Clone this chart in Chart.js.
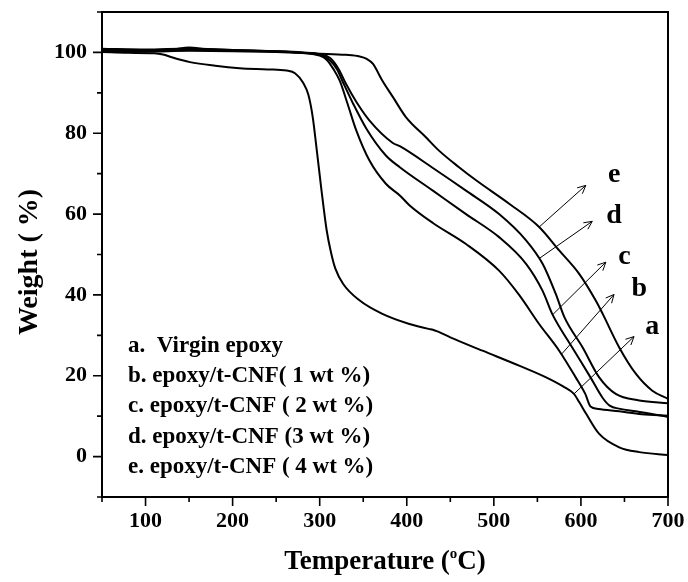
<!DOCTYPE html>
<html><head><meta charset="utf-8">
<script src="https://cdn.jsdelivr.net/npm/chart.js@4.4.0/dist/chart.umd.min.js"></script>
<style>html,body{margin:0;padding:0;background:#fff;} #wrap{width:688px;height:582px;position:relative;}</style>
</head><body><div id="wrap"><canvas id="c" width="688" height="582"></canvas></div>
<script>
// ---- data ----
const tempA = [50, 80, 110, 120, 130, 151, 180, 208, 240, 262, 272, 281, 287, 292, 296, 302, 308, 313, 318, 327, 346, 372, 403, 425, 430, 436, 450, 487, 529, 560, 580, 592, 598, 606, 621, 644, 667, 700];
const weightA = [100.1, 99.9, 99.8, 99.5, 98.8, 97.6, 96.7, 96.1, 95.8, 95.5, 94.8, 92.5, 89.5, 84, 77, 66, 56, 50.5, 46.5, 42.7, 38.6, 35.3, 32.8, 31.6, 31.4, 30.9, 29.5, 26.2, 22.5, 19.6, 17.3, 15.5, 13.5, 10.6, 5.6, 2.3, 1.1, 0.4];

const tempB = [50, 100, 130, 150, 170, 200, 250, 280, 300, 308, 316, 323, 332, 342, 357, 376, 392, 403, 430, 468, 506, 529, 552, 575, 594, 605, 611, 620, 644, 670, 700];
const weightB = [100.8, 100.6, 100.7, 101.2, 100.8, 100.6, 100.3, 99.9, 99.2, 98.2, 95.8, 93, 87.3, 80.7, 73.3, 67.5, 64.6, 62.2, 57.8, 52.6, 46, 40, 32.8, 26.2, 19.6, 15.5, 12.4, 11.8, 11.2, 10.5, 10.1];

const tempC = [50, 100, 150, 200, 250, 280, 300, 311, 320, 327, 338, 354, 376, 392, 430, 468, 506, 537, 556, 567, 590, 611, 625, 633, 645, 663, 700];
const weightC = [100.4, 100.3, 100.8, 100.5, 100.2, 99.9, 99.5, 98.2, 95.8, 92.5, 87.5, 81, 74.5, 71.6, 65.8, 60, 54.3, 47.7, 41, 35.3, 27, 19.6, 14.5, 12.6, 11.8, 11.2, 9.8];

const tempD = [50, 100, 150, 200, 250, 280, 300, 312, 322, 330, 342, 357, 384, 392, 430, 468, 506, 537, 556, 571, 581, 602, 621, 640, 667, 700];
const weightD = [100.9, 100.7, 101.0, 100.6, 100.3, 100.0, 99.6, 98.6, 95.8, 92.3, 87.8, 83.2, 77.6, 76.8, 71.4, 65.8, 60, 53.5, 47.7, 40.3, 34.5, 27, 19.6, 15.5, 13.9, 13.2];

const tempE = [50, 100, 150, 200, 250, 300, 330, 346, 354, 361, 372, 384, 399, 422, 437, 460, 480, 518, 552, 575, 598, 617, 625, 644, 663, 682, 700];
const weightE = [100.3, 100.2, 100.4, 100.3, 100.1, 99.7, 99.4, 99, 98.4, 97.2, 93, 89, 84, 79, 75.7, 71.6, 68.3, 62.5, 56.8, 51, 45.2, 38.6, 35.3, 27, 20.5, 16.3, 14.3];

const seriesNames = ['a', 'b', 'c', 'd', 'e'];
const legendLines = ['a.  Virgin epoxy', 'b. epoxy/t-CNF( 1 wt %)', 'c. epoxy/t-CNF ( 2 wt %)', 'd. epoxy/t-CNF (3 wt %)', 'e. epoxy/t-CNF ( 4 wt %)'];
const xTicks = [50, 100, 150, 200, 250, 300, 350, 400, 450, 500, 550, 600, 650, 700];
const yTicks = [-10, 0, 10, 20, 30, 40, 50, 60, 70, 80, 90, 100, 110];
// arrows (data coords): start on curve -> end near the letter
const arrowStart = [[592, 15.5], [578, 25.4], [568, 35.2], [552, 49], [552, 56.8]];
const arrowEnd   = [[661, 29.7], [638, 40.1], [628.6, 48.1], [613, 58.2], [605.6, 67.1]];
const letterPos  = [[674, 32], [658, 41.5], [643, 49.5], [629, 59.5], [631, 69.8]];

const temps = [tempA, tempB, tempC, tempD, tempE];
const weights = [weightA, weightB, weightC, weightD, weightE];
const datasets = seriesNames.map((n, i) => ({
  label: n,
  data: temps[i].map((t, k) => ({x: t, y: weights[i][k]})),
  borderColor: '#000', borderWidth: 2, pointRadius: 0, fill: false,
  cubicInterpolationMode: 'monotone'
}));

const SERIF = '"Liberation Serif", "Times New Roman", serif';

const decor = {
  id: 'decor',
  afterDraw(chart) {
    const {ctx, chartArea: ca, scales: {x, y}} = chart;
    ctx.save();
    ctx.strokeStyle = '#000';
    ctx.lineWidth = 2;
    ctx.beginPath();
    ctx.moveTo(ca.left, ca.top); ctx.lineTo(ca.right, ca.top); ctx.lineTo(ca.right, ca.bottom);
    ctx.stroke();
    ctx.lineWidth = 1.6;
    ctx.beginPath();
    xTicks.forEach(v => {
      const px = x.getPixelForValue(v); const len = v % 100 === 0 ? 9 : 5;
      ctx.moveTo(px, ca.bottom); ctx.lineTo(px, ca.bottom + len);
    });
    yTicks.forEach(v => {
      const py = y.getPixelForValue(v); const len = v % 20 === 0 ? 9 : 5;
      ctx.moveTo(ca.left, py); ctx.lineTo(ca.left - len, py);
    });
    ctx.stroke();

    // arrows
    ctx.lineWidth = 1;
    arrowStart.forEach((s, i) => {
      const x0 = x.getPixelForValue(s[0]), y0 = y.getPixelForValue(s[1]);
      const x1 = x.getPixelForValue(arrowEnd[i][0]), y1 = y.getPixelForValue(arrowEnd[i][1]);
      const ang = Math.atan2(y1 - y0, x1 - x0);
      const h = 9, a = 0.45;
      ctx.beginPath();
      ctx.moveTo(x0, y0); ctx.lineTo(x1, y1);
      ctx.moveTo(x1 - h * Math.cos(ang - a), y1 - h * Math.sin(ang - a));
      ctx.lineTo(x1, y1);
      ctx.lineTo(x1 - h * Math.cos(ang + a), y1 - h * Math.sin(ang + a));
      ctx.stroke();
    });

    // letters
    ctx.fillStyle = '#000';
    ctx.font = 'bold 28px ' + SERIF;
    ctx.textAlign = 'left'; ctx.textBaseline = 'middle';
    letterPos.forEach((p, i) => {
      ctx.fillText(seriesNames[i], x.getPixelForValue(p[0]), y.getPixelForValue(p[1]));
    });

    // legend text
    ctx.font = 'bold 23px ' + SERIF;
    const legY = [346, 376, 406, 437, 467];
    legendLines.forEach((t, i) => ctx.fillText(t, 128, legY[i]));

    // axis titles
    ctx.font = 'bold 28px ' + SERIF;
    ctx.save();
    ctx.translate(30, 262);
    ctx.rotate(-Math.PI / 2);
    ctx.textAlign = 'center';
    ctx.fillText('Weight ( %)', 0, 0);
    ctx.restore();

    const t1 = 'Temperature (', sup = 'o', t2 = 'C)';
    ctx.font = 'bold 27px ' + SERIF;
    const w1 = ctx.measureText(t1).width, w3 = ctx.measureText(t2).width;
    ctx.font = 'bold 15px ' + SERIF;
    const w2 = ctx.measureText(sup).width;
    const total = w1 + w2 + w3;
    let sx = (ca.left + ca.right) / 2 - total / 2;
    const by = 569;
    ctx.textBaseline = 'alphabetic';
    ctx.font = 'bold 27px ' + SERIF;
    ctx.fillText(t1, sx, by); sx += w1;
    ctx.font = 'bold 15px ' + SERIF;
    ctx.fillText(sup, sx, by - 11); sx += w2;
    ctx.font = 'bold 27px ' + SERIF;
    ctx.fillText(t2, sx, by);
    ctx.restore();
  }
};

new Chart(document.getElementById('c'), {
  type: 'line',
  data: {datasets},
  options: {
    responsive: false, animation: false, devicePixelRatio: 1,
    layout: {padding: {top: 12, right: 20, left: 0, bottom: 0}},
    plugins: {legend: {display: false}, tooltip: {enabled: false}},
    scales: {
      x: {
        type: 'linear', min: 50, max: 700,
        afterFit: s => { s.height = 85; s.paddingLeft = 0; s.paddingRight = 0; },
        grid: {display: false},
        border: {display: true, color: '#000', width: 2},
        ticks: {stepSize: 50, autoSkip: false, maxRotation: 0, padding: 3, color: '#000',
          font: {family: SERIF, size: 22, weight: 'bold'},
          callback: v => (v % 100 === 0 ? String(v) : '')}
      },
      y: {
        type: 'linear', min: -10, max: 110,
        afterFit: s => { s.width = 102; s.paddingTop = 0; s.paddingBottom = 0; },
        grid: {display: false},
        border: {display: true, color: '#000', width: 2},
        ticks: {stepSize: 10, autoSkip: false, padding: 7, color: '#000',
          font: {family: SERIF, size: 22, weight: 'bold'},
          callback: v => (v % 20 === 0 && v >= 0 && v <= 100 ? String(v) : '')}
      }
    }
  },
  plugins: [decor]
});
</script></body></html>
